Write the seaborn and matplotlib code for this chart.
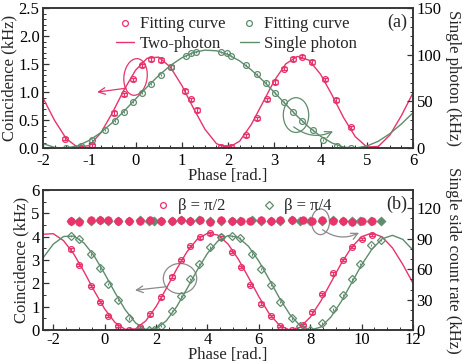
import numpy as np
import matplotlib
matplotlib.use("Agg")
import matplotlib.pyplot as plt
from matplotlib.patches import Ellipse
from matplotlib.lines import Line2D
from matplotlib.ticker import MultipleLocator, FormatStrFormatter
import seaborn as sns
import pandas as pd

# ---------- panel (a) ----------
# two-photon coincidence (kHz, left axis)
a_red_x = [-1.52, -1.18, -0.95, -0.46, -0.25, -0.05, 0.15, 0.34, 0.54, 0.77, 1.07, 1.19, 1.32,
           1.85, 1.96, 2.06, 2.39, 2.62, 2.84, 3.02, 3.21, 3.40, 3.61, 3.82, 4.10, 4.34, 4.65]
a_red_y = [0.17, 0.00, 0.05, 0.63, 0.96, 1.23, 1.48, 1.59, 1.57, 1.45, 1.02, 0.87, 0.68,
           0.02, 0.00, 0.02, 0.23, 0.53, 0.87, 1.18, 1.42, 1.59, 1.63, 1.54, 1.23, 0.86, 0.37]
# single photon (kHz, right axis)
a_grn_x = [-1.50, -1.18, -0.95, -0.67, -0.44, -0.26, -0.06, 0.13, 0.33, 0.54, 0.77, 1.09, 1.20, 1.30,
           1.85, 1.97, 2.06, 2.39, 2.63, 2.82, 3.02, 3.20, 3.41, 3.59, 3.83, 4.06, 4.35, 4.67]
a_grn_y = [0.0, 2.4, 8.4, 19.2, 29.4, 39.0, 49.2, 58.8, 68.4, 78.6, 87.0, 99.0, 101.4, 103.2,
           103.2, 101.4, 99.0, 89.4, 79.2, 70.2, 59.4, 49.8, 39.0, 28.8, 19.2, 8.4, 2.4, 0.0]
# fitted curves
a_fit_x = [-2.0, -1.75, -1.5, -1.25, -1.0, -0.75, -0.5, -0.25, 0.0, 0.25, 0.5, 0.75, 1.0, 1.25, 1.5, 1.75,
           2.0, 2.25, 2.5, 2.75, 3.0, 3.25, 3.5, 3.75, 4.0, 4.25, 4.5, 4.75, 5.0, 5.25, 5.5, 5.75, 6.0]
a_fit_red = [0.893, 0.493, 0.172, 0.011, 0.047, 0.273, 0.632, 1.038, 1.390, 1.603, 1.624, 1.449, 1.120,
             0.716, 0.338, 0.080, 0.002, 0.124, 0.417, 0.809, 1.203, 1.504, 1.637, 1.570, 1.319, 0.946,
             0.543, 0.207, 0.021, 0.030, 0.234, 0.581, 0.986]
a_fit_grn = [4.8, 0.8, 0.1, 2.6, 8.3, 16.7, 27.4, 39.5, 52.6, 65.5, 77.7, 88.3, 96.7, 102.4, 104.9, 104.2,
             100.2, 93.4, 83.9, 72.5, 59.8, 46.8, 34.0, 22.4, 12.8, 5.5, 1.1, 0.1, 2.2, 7.4, 15.5, 25.9, 37.9]

# ---------- panel (b) ----------
b_x = [-1.31, -1.00, -0.53, -0.18, 0.14, 0.51, 0.95, 1.37, 1.76, 2.18, 2.63, 2.97, 3.32, 3.71, 4.10, 4.53,
       4.94, 5.30, 5.65, 6.08, 6.47, 6.82, 7.28, 7.70, 8.08, 8.47, 8.90, 9.26, 9.61, 10.00, 10.40]
b_red_y = [3.46, 2.79, 1.90, 1.21, 0.61, 0.18, 0.00, 0.14, 0.67, 1.40, 2.29, 3.00, 3.60, 3.97, 4.14, 3.97,
           3.36, 2.71, 1.93, 1.14, 0.60, 0.18, 0.00, 0.22, 0.76, 1.54, 2.43, 3.00, 3.57, 3.90, 4.08]
b_grn_x = [-1.32, -0.99, -0.53, -0.18, 0.14, 0.51, 0.95, 1.37, 1.72, 1.90, 2.19, 2.63, 2.97, 3.32, 3.67, 4.10,
           4.53, 4.94, 5.27, 5.72, 6.08, 6.47, 6.82, 7.28, 7.60, 7.99, 8.47, 8.90, 9.26, 9.61, 9.93, 10.36, 10.75]
b_grn_y = [4.03, 3.89, 3.24, 2.64, 1.97, 1.29, 0.50, 0.07, 0.00, 0.00, 0.18, 0.83, 1.46, 2.19, 2.83, 3.54,
           3.97, 4.03, 3.93, 3.24, 2.61, 1.93, 1.21, 0.50, 0.18, 0.00, 0.29, 0.89, 1.50, 2.17, 2.83, 3.64, 3.85]
# single side count rates (kHz, right axis)
b_red_single = [107.0, 106.5, 108.0, 108.5, 108.0, 107.0, 107.5, 107.5, 108.0, 107.0, 107.5, 108.0, 107.5,
                108.0, 106.5, 108.0, 107.5, 107.0, 107.0, 108.0, 107.5, 108.0, 108.5, 108.0, 107.0, 108.0,
                107.5, 107.0, 106.5, 107.5, 107.5]
b_grn_single = [107.0, 107.5, 107.0, 108.0, 107.5, 107.5, 107.0, 108.0, 107.0, 107.0, 107.5, 107.0, 108.0,
                107.5, 108.0, 107.0, 107.0, 107.5, 107.0, 108.0, 107.5, 107.0, 107.5, 108.0, 107.0, 107.5,
                107.5, 108.0, 107.0, 107.5, 107.0, 107.0, 107.0]
b_fit_x = [-2.4, -2.0, -1.6, -1.2, -0.8, -0.4, 0.0, 0.4, 0.8, 1.2, 1.6, 2.0, 2.4, 2.8, 3.2, 3.6, 4.0, 4.4, 4.8,
           5.2, 5.6, 6.0, 6.4, 6.8, 7.2, 7.6, 8.0, 8.4, 8.8, 9.2, 9.6, 10.0, 10.4, 10.8, 11.2, 11.6, 12.0]
b_fit_red = [4.106, 4.129, 3.829, 3.253, 2.492, 1.666, 0.905, 0.329, 0.029, 0.054, 0.399, 1.009, 1.789, 2.612,
             3.353, 3.894, 4.148, 4.075, 3.688, 3.041, 2.251, 1.433, 0.709, 0.210, 0.002, 0.125, 0.553, 1.225,
             2.030, 2.843, 3.536, 4.000, 4.160, 3.992, 3.524, 2.818, 2.009]
b_fit_grn = [3.094, 3.684, 4.011, 4.027, 3.725, 3.159, 2.412, 1.606, 0.867, 0.311, 0.026, 0.059, 0.402, 1.003,
             1.766, 2.570, 3.289, 3.810, 4.050, 3.971, 3.585, 2.954, 2.178, 1.378, 0.680, 0.197, 0.002, 0.128,
             0.554, 1.214, 2.002, 2.795, 3.465, 3.912, 4.060, 3.887, 3.423]

RED = "#e8336b"
GRN = "#5e8c6c"
GRAY = "#8a8a8a"
FS = 12

sns.set_style("ticks")
plt.rcParams["font.family"] = ["Liberation Serif", "DejaVu Serif"]
plt.rcParams["font.size"] = FS
plt.rcParams["axes.unicode_minus"] = False
plt.rcParams["axes.linewidth"] = 1.1
plt.rcParams["axes.edgecolor"] = "#333333"
plt.rcParams["xtick.direction"] = "in"
plt.rcParams["ytick.direction"] = "in"

fig = plt.figure(figsize=(4.63, 3.64), dpi=100)
ax1 = fig.add_axes([0.093, 0.593, 0.799, 0.385])
ax2 = fig.add_axes([0.093, 0.093, 0.799, 0.385])


def style_ticks(ax):
    ax.tick_params(which="major", length=4, width=0.9, labelsize=FS, pad=2.5, colors="#333333",
                   labelcolor="black")
    ax.tick_params(which="minor", length=2.2, width=0.7, colors="#333333")
    ax.tick_params(axis="x", pad=3.5)


# ===== panel (a) =====
ax1r = ax1.twinx()
sns.lineplot(x=a_fit_x, y=a_fit_red, ax=ax1, color=RED, lw=1.0)
ax1.errorbar(a_red_x, a_red_y, yerr=0.03, fmt="o", ms=4.2, mfc="none", mec=RED, mew=0.9,
             ecolor=RED, elinewidth=0.8, capsize=2.2, capthick=0.8)
sns.lineplot(x=a_fit_x, y=a_fit_grn, ax=ax1r, color=GRN, lw=1.0)
ax1r.errorbar(a_grn_x, a_grn_y, yerr=1.2, fmt="o", ms=4.2, mfc="none", mec=GRN, mew=0.9,
              ecolor=GRN, elinewidth=0.8, capsize=0)

ax1.set_xlim(-2, 6)
ax1.set_ylim(0, 2.5)
ax1r.set_ylim(0, 150)
ax1.xaxis.set_major_locator(MultipleLocator(1))
ax1.xaxis.set_minor_locator(MultipleLocator(0.25))
ax1.yaxis.set_major_locator(MultipleLocator(0.5))
ax1.yaxis.set_minor_locator(MultipleLocator(0.1))
ax1r.yaxis.set_major_locator(MultipleLocator(50))
ax1r.yaxis.set_minor_locator(MultipleLocator(10))
ax1.yaxis.set_major_formatter(FormatStrFormatter("%.1f"))
for a in (ax1, ax1r):
    style_ticks(a)
ax1.set_xlabel("Phase [rad.]", fontsize=FS, labelpad=-1)
ax1.set_ylabel("Coincidence (kHz)", fontsize=FS, labelpad=1)
ax1r.set_ylabel("Single photon (kHz)", fontsize=FS, rotation=-90, labelpad=14)

ax1.add_patch(Ellipse((0.0, 1.27), 0.5, 0.66, angle=-12, fill=False, ec=RED, lw=0.9))
ax1.annotate("", xy=(-0.83, 1.0), xytext=(-0.2, 1.07),
             arrowprops=dict(arrowstyle="->", color=RED, lw=0.9, shrinkA=0, shrinkB=0))
ax1.add_patch(Ellipse((3.47, 0.59), 0.55, 0.62, angle=0, fill=False, ec=GRN, lw=0.9))
ax1.annotate("", xy=(4.27, 0.3), xytext=(3.42, 0.38),
             arrowprops=dict(arrowstyle="->", color=GRN, lw=0.9, shrinkA=0, shrinkB=0,
                             connectionstyle="arc3,rad=0.3"))
ax1.text(0.985, 0.9, "(a)", transform=ax1.transAxes, ha="right", va="center", fontsize=13)

h = [Line2D([], [], ls="none", marker="o", ms=4.2, mfc="none", mec=RED, mew=0.9),
     Line2D([], [], color=RED, lw=1.0),
     Line2D([], [], ls="none", marker="o", ms=4.2, mfc="none", mec=GRN, mew=0.9),
     Line2D([], [], color=GRN, lw=1.0)]
ax1r.legend(h, ["Fitting curve", "Two-photon", "Fitting curve", "Single photon"], ncol=2,
            loc="upper left", bbox_to_anchor=(0.16, 1.035), frameon=False, fontsize=FS,
            handlelength=1.1, handletextpad=0.35, columnspacing=0.9, labelspacing=0.22, borderpad=0.3)

# ===== panel (b) =====
ax2r = ax2.twinx()
sns.lineplot(x=b_fit_x, y=b_fit_red, ax=ax2, color=RED, lw=1.0)
sns.lineplot(x=b_fit_x, y=b_fit_grn, ax=ax2, color=GRN, lw=1.0)
ax2.errorbar(b_x, b_red_y, yerr=0.05, fmt="o", ms=4.2, mfc="none", mec=RED, mew=0.9,
             ecolor=RED, elinewidth=0.8, capsize=2.0, capthick=0.8)
ax2.errorbar(b_grn_x, b_grn_y, yerr=0.05, fmt="D", ms=3.8, mfc="none", mec=GRN, mew=0.9,
             ecolor=GRN, elinewidth=0.8, capsize=0)
top = pd.DataFrame({"x": b_grn_x, "y": b_grn_single})
sns.scatterplot(data=top, x="x", y="y", ax=ax2r, marker="D", s=22, color=GRN, edgecolor=GRN, zorder=3)
top_r = pd.DataFrame({"x": b_x, "y": b_red_single})
sns.scatterplot(data=top_r, x="x", y="y", ax=ax2r, marker="o", s=30, color=RED, edgecolor=RED, zorder=4)

ax2.set_xlim(-2.4, 12)
ax2.set_ylim(0, 6)
ax2r.set_ylim(0, 138)
ax2.xaxis.set_major_locator(MultipleLocator(2))
ax2.xaxis.set_minor_locator(MultipleLocator(0.5))
ax2.yaxis.set_major_locator(MultipleLocator(1))
ax2.yaxis.set_minor_locator(MultipleLocator(0.5))
ax2r.yaxis.set_major_locator(MultipleLocator(30))
ax2r.yaxis.set_minor_locator(MultipleLocator(10))
for a in (ax2, ax2r):
    style_ticks(a)
ax2.tick_params(axis="x", pad=1.5)
ax2r.set_xlabel("")
ax2r.set_ylabel("Single side count rate (kHz)", fontsize=FS, rotation=-90, labelpad=14)
ax2.set_xlabel("Phase [rad.]", fontsize=FS, labelpad=-1)
ax2.set_ylabel("Coincidence (kHz)", fontsize=FS, labelpad=1)

ax2.add_patch(Ellipse((2.93, 2.21), 1.3, 1.29, fill=False, ec=GRAY, lw=0.9))
ax2.annotate("", xy=(1.18, 1.71), xytext=(2.41, 1.86),
             arrowprops=dict(arrowstyle="->", color=GRAY, lw=0.9, shrinkA=0, shrinkB=0))
ax2.add_patch(Ellipse((8.4, 4.64), 0.7, 1.1, fill=False, ec=GRAY, lw=0.9))
ax2.annotate("", xy=(9.9, 4.17), xytext=(8.48, 4.3),
             arrowprops=dict(arrowstyle="->", color=GRAY, lw=0.9, shrinkA=0, shrinkB=0,
                             connectionstyle="arc3,rad=0.3"))
ax2.text(0.985, 0.9, "(b)", transform=ax2.transAxes, ha="right", va="center", fontsize=13)

hb = [Line2D([], [], ls="none", marker="o", ms=4.2, mfc="none", mec=RED, mew=0.9),
      Line2D([], [], ls="none", marker="D", ms=3.8, mfc="none", mec=GRN, mew=0.9)]
ax2r.legend(hb, ["\u03b2 = \u03c0/2", "\u03b2 = \u03c0/4"], ncol=2, loc="upper left",
            bbox_to_anchor=(0.27, 1.035), frameon=False, fontsize=FS, handlelength=0.8,
            handletextpad=0.5, columnspacing=2.2, borderpad=0.3)

fig.savefig("out.png", dpi=100)
